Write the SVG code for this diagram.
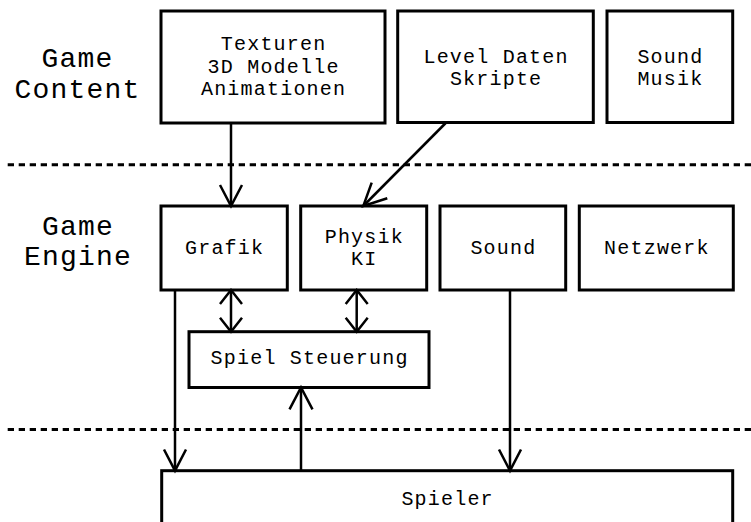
<svg xmlns="http://www.w3.org/2000/svg" width="751" height="522" viewBox="0 0 751 522">
<style>
  .box { fill: #fff; stroke: #000; stroke-width: 3; }
  .t { font-family: "Liberation Mono", "Courier New", monospace; font-size: 20px; letter-spacing: 1.2px; fill: #000; text-anchor: middle; }
  .lbl { font-family: "Liberation Mono", "Courier New", monospace; font-size: 28px; letter-spacing: 1.2px; fill: #000; text-anchor: middle; }
  .sep { stroke: #000; stroke-width: 3; stroke-dasharray: 6.3 4.7; fill: none; }
  .c { stroke: #000; stroke-width: 2.5; fill: none; }
</style>
<rect width="751" height="522" fill="#fff"/>

<g id="separators">
  <line class="sep" x1="7.7" y1="164.8" x2="751" y2="164.8"/>
  <line class="sep" x1="7.7" y1="429.5" x2="751" y2="429.5"/>
</g>

<g id="label-content">
  <text class="lbl" x="77.6" y="66.7">Game</text>
  <text class="lbl" x="77.6" y="97.7">Content</text>
</g>
<g id="label-engine">
  <text class="lbl" x="78.1" y="235">Game</text>
  <text class="lbl" x="78.1" y="265">Engine</text>
</g>

<g id="texturen">
  <rect class="box" x="161" y="11" width="224" height="112"/>
  <text class="t" x="273.6" y="50">Texturen</text>
  <text class="t" x="273.6" y="72.5">3D Modelle</text>
  <text class="t" x="273.6" y="95">Animationen</text>
</g>
<g id="leveldaten">
  <rect class="box" x="397.7" y="11" width="195.6" height="111.5"/>
  <text class="t" x="496.1" y="62.7">Level Daten</text>
  <text class="t" x="496.1" y="84.5">Skripte</text>
</g>
<g id="soundmusik">
  <rect class="box" x="607" y="11" width="125.7" height="111.5"/>
  <text class="t" x="670.4" y="62.7">Sound</text>
  <text class="t" x="670.4" y="84.5">Musik</text>
</g>

<g id="grafik">
  <rect class="box" x="161" y="206" width="126.3" height="84"/>
  <text class="t" x="224.6" y="254">Grafik</text>
</g>
<g id="physik">
  <rect class="box" x="300.7" y="206" width="126" height="84"/>
  <text class="t" x="364.3" y="243.3">Physik</text>
  <text class="t" x="364.3" y="265">KI</text>
</g>
<g id="sound">
  <rect class="box" x="440" y="206" width="125.7" height="84"/>
  <text class="t" x="503.4" y="254">Sound</text>
</g>
<g id="netzwerk">
  <rect class="box" x="579.3" y="206" width="154" height="84"/>
  <text class="t" x="656.9" y="254">Netzwerk</text>
</g>

<g id="spielsteuerung">
  <rect class="box" x="189" y="331.7" width="240" height="55.8"/>
  <text class="t" x="309.6" y="364">Spiel Steuerung</text>
</g>

<g id="spieler">
  <rect class="box" x="161.7" y="470.7" width="571" height="60"/>
  <text class="t" x="447.6" y="505">Spieler</text>
</g>

<g id="connectors">
  <line class="c" x1="231" y1="123" x2="231" y2="206"/>
  <polyline class="c" points="220,185 231,206 242,185"/>
  <line class="c" x1="446.7" y1="122" x2="363.3" y2="206"/>
  <polyline class="c" points="371.7,182.7 363.3,206 387.3,198.3"/>
  <line class="c" x1="231" y1="290" x2="231" y2="331.7"/>
  <polyline class="c" points="220,304 231,290 242,304"/>
  <polyline class="c" points="220,317.7 231,331.7 242,317.7"/>
  <line class="c" x1="356.7" y1="290" x2="356.7" y2="331.7"/>
  <polyline class="c" points="345.7,304 356.7,290 367.7,304"/>
  <polyline class="c" points="345.7,317.7 356.7,331.7 367.7,317.7"/>
  <line class="c" x1="175" y1="290" x2="175" y2="470.7"/>
  <polyline class="c" points="164,449.5 175,470.7 186,449.5"/>
  <line class="c" x1="301" y1="470.7" x2="301" y2="387.5"/>
  <polyline class="c" points="289.5,409.3 301,387.5 312.5,409.3"/>
  <line class="c" x1="510" y1="290" x2="510" y2="470.7"/>
  <polyline class="c" points="499,449.5 510,470.7 521,449.5"/>
</g>
</svg>
